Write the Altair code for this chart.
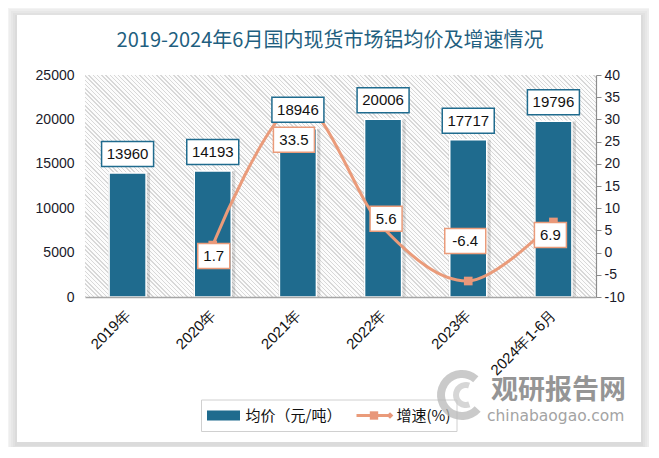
import altair as alt
import pandas as pd

# ---------------- data ----------------
YEARS = ["2019年", "2020年", "2021年", "2022年", "2023年", "2024年1-6月"]
PRICE = [13960, 14193, 18946, 20006, 17717, 19796]
GROWTH_YEARS = ["2020年", "2021年", "2022年", "2023年", "2024年1-6月"]
GROWTH = [1.7, 33.5, 5.6, -6.4, 6.9]
LEFT_TICKS = [0, 5000, 10000, 15000, 20000, 25000]
RIGHT_TICKS = [-10, -5, 0, 5, 10, 15, 20, 25, 30, 35, 40]
TITLE = "2019-2024年6月国内现货市场铝均价及增速情况"
LEGEND_BAR = "均价（元/吨）"
LEGEND_LINE = "增速(%)"

price_df = pd.DataFrame({"year": YEARS, "price": PRICE,
                         "label": [str(v) for v in PRICE]})
growth_df = pd.DataFrame({"year": GROWTH_YEARS, "growth": GROWTH,
                          "label": [f"{v:.1f}" for v in GROWTH]})
one = pd.DataFrame({"k": [0]})

# ---------------- style ----------------
W, H = 511, 222
BAR_C = "#1f6b8e"
LINE_C = "#ea9b7a"
NUM_FONT = "Liberation Sans"
CJK_FONT = "Noto Sans CJK SC"
# label placement (pixel offsets from the data point)
LINE_LABEL_OFFSETS = {"2020年": (1, 11), "2021年": (-4, 36), "2022年": (3, -9),
                      "2023年": (-3, -40), "2024年1-6月": (-3, 13)}


def box_shape(w, h):
    r = h / w
    return f"M-1,{-r:.4f}L1,{-r:.4f}L1,{r:.4f}L-1,{r:.4f}Z"


X = alt.X("year:N", scale=alt.Scale(domain=YEARS, paddingInner=0.2, paddingOuter=0.1),
          axis=alt.Axis(title=None, labelAngle=-45, labelAlign="right", labelBaseline="middle",
                        labelPadding=15, ticks=False, tickSize=0, domainColor="#a6a6a6",
                        domainWidth=1.5, labelFont=NUM_FONT, labelFontSize=15,
                        labelColor="#111111", grid=False, zindex=1))
Y_LEFT_SCALE = alt.Scale(domain=[0, 25000], nice=False)
Y_RIGHT_SCALE = alt.Scale(domain=[-10, 40], nice=False)
YL = alt.Y("price:Q", scale=Y_LEFT_SCALE,
           axis=alt.Axis(title=None, values=LEFT_TICKS, domain=False, ticks=False, grid=False,
                         labelPadding=11, labelFont=NUM_FONT, labelFontSize=14,
                         labelColor="#1a1a2a", labelExpr="'' + datum.value", zindex=1))
YL_NOAX = alt.Y("price:Q", scale=Y_LEFT_SCALE, axis=None)
YR = alt.Y("growth:Q", scale=Y_RIGHT_SCALE,
           axis=alt.Axis(title=None, orient="right", values=RIGHT_TICKS, domain=True,
                         domainColor="#8c8c8c", domainWidth=1.2, ticks=True, tickSize=5,
                         tickColor="#8c8c8c", grid=False, labelPadding=3, labelFont=NUM_FONT,
                         labelFontSize=14, labelColor="#1a1a2a",
                         labelExpr="'' + datum.value", zindex=1))
YR_NOAX = alt.Y("growth:Q", scale=Y_RIGHT_SCALE, axis=None)

# ---------------- decoration: panel + shadow ----------------
px0, px1, py0, py1 = -68, 556, -60, 367
deco = []
for e in [12, 10, 8, 6, 4, 2]:
    deco.append(alt.Chart(one).mark_rect(fill="black", opacity=0.022).encode(
        x=alt.value(px0 - e), x2=alt.value(px1 + e),
        y=alt.value(py0 - e + 2), y2=alt.value(py1 + e + 2)))
deco.append(alt.Chart(one).mark_rect(fill="white").encode(
    x=alt.value(px0), x2=alt.value(px1), y=alt.value(py0), y2=alt.value(py1)))

# hatched plot background (diagonal stripes via a hard-stop gradient)
perp = (W + H) / 2 ** 0.5
period, stripe = 3.0, 1.0
stops = []
i = 0
while i * period < perp:
    a = i * period / perp
    b = min((i * period + stripe) / perp, 1)
    c = min(((i + 1) * period) / perp, 1)
    stops += [alt.GradientStop(offset=round(a, 5), color="#d8d8d8"),
              alt.GradientStop(offset=round(b, 5), color="#d8d8d8"),
              alt.GradientStop(offset=round(b, 5), color="#fcfcfc"),
              alt.GradientStop(offset=round(c, 5), color="#fcfcfc")]
    i += 1
k = (1 + H / W) / (1 + (H / W) ** 2)
hatch = alt.LinearGradient(gradient="linear", stops=stops, x1=0, y1=1,
                           x2=round(k, 4), y2=round(1 - k * H / W, 4))
deco.append(alt.Chart(one).mark_rect(fill=hatch).encode(
    x=alt.value(0), x2=alt.value(W), y=alt.value(0), y2=alt.value(H)))

deco.append(alt.Chart(one).mark_text(fontSize=20, font=CJK_FONT, color="#1f5f80",
                                     align="center", baseline="middle").encode(
    x=alt.value(245), y=alt.value(-34), text=alt.value(TITLE)))

# ---------------- bars ----------------
bar_shadow = alt.Chart(price_df).mark_bar(width=42, color="black", opacity=0.13, xOffset=1.5).encode(
    x=X, y=YL)
bars = alt.Chart(price_df).mark_bar(width=37, color=BAR_C, stroke="white", strokeWidth=1.5).encode(
    x=X, y=YL)
bars_group = alt.layer(bar_shadow, bars)

# ---------------- line ----------------
line = alt.Chart(growth_df).mark_line(interpolate="cardinal", color=LINE_C, strokeWidth=3).encode(
    x=X, y=YR)
pts = alt.Chart(growth_df).mark_point(shape="square", filled=True, size=75, color="#e8977a",
                                      opacity=1).encode(x=X, y=YR)
line_group = alt.layer(line, pts)

# ---------------- bar value labels (drawn above the line) ----------------
bar_box = alt.Chart(price_df).mark_point(shape=box_shape(52, 25), size=52 * 52, fill="white",
                                         stroke=BAR_C, strokeWidth=1.5, opacity=1,
                                         fillOpacity=1, yOffset=-19).encode(x=X, y=YL_NOAX)
bar_text = alt.Chart(price_df).mark_text(dy=-19, fontSize=15, font=NUM_FONT, color="#111111",
                                         baseline="middle").encode(x=X, y=YL_NOAX, text="label:N")
barlab_group = alt.layer(bar_box, bar_text)

# ---------------- growth labels ----------------
lab_layers = []
for yr, lab in zip(GROWTH_YEARS, [f"{v:.1f}" for v in GROWTH]):
    dx, dy = LINE_LABEL_OFFSETS[yr]
    w = 9 * len(lab) + 5 if "." in lab else 8 * len(lab) + 10
    base = alt.Chart(growth_df).transform_filter(alt.datum.year == yr)
    lab_layers.append(base.mark_point(shape=box_shape(w, 25), size=w * w, fill="white",
                                      stroke=LINE_C, strokeWidth=1.5, opacity=1,
                                      fillOpacity=1, xOffset=dx, yOffset=dy).encode(x=X, y=YR_NOAX))
    lab_layers.append(base.mark_text(dx=dx, dy=dy, fontSize=15, font=NUM_FONT, color="#111111",
                                     baseline="middle").encode(x=X, y=YR_NOAX, text="label:N"))
linelab_group = alt.layer(*lab_layers)

# ---------------- legend + watermark ----------------
front = []
front.append(alt.Chart(one).mark_rect(fill="white", fillOpacity=0, stroke="#d0d0d0", strokeWidth=1).encode(
    x=alt.value(116.5), x2=alt.value(372), y=alt.value(325), y2=alt.value(356.5)))
front.append(alt.Chart(one).mark_rect(fill=BAR_C).encode(
    x=alt.value(122), x2=alt.value(155), y=alt.value(335.5), y2=alt.value(345.5)))
front.append(alt.Chart(one).mark_text(font=CJK_FONT, fontSize=15, color="#111111", align="left",
                                      baseline="middle").encode(
    x=alt.value(160.5), y=alt.value(340.5), text=alt.value(LEGEND_BAR)))
front.append(alt.Chart(one).mark_rule(color=LINE_C, strokeWidth=3).encode(
    x=alt.value(271.5), x2=alt.value(306), y=alt.value(340.5)))
front.append(alt.Chart(one).mark_point(shape="square", filled=True, size=70, color="#e8977a",
                                       opacity=1).encode(x=alt.value(289), y=alt.value(340.5)))
front.append(alt.Chart(one).mark_point(shape="diamond", filled=True, size=45, color="#e8977a",
                                       opacity=1).encode(x=alt.value(305), y=alt.value(340.5)))
front.append(alt.Chart(one).mark_text(font=CJK_FONT, fontSize=15, color="#111111", align="left",
                                      baseline="middle").encode(
    x=alt.value(311.5), y=alt.value(340.5), text=alt.value(LEGEND_LINE)))
# watermark
front.append(alt.Chart(one).mark_arc(radius=25, radius2=17, theta=2.3, theta2=7.0,
                                     color="#b8b8b8", opacity=0.75).encode(
    x=alt.value(377), y=alt.value(320)))
front.append(alt.Chart(one).mark_arc(radius=13, radius2=7, theta=2.8, theta2=6.6,
                                     color="#c8c8c8", opacity=0.75).encode(
    x=alt.value(381), y=alt.value(320)))
front.append(alt.Chart(one).mark_text(font=CJK_FONT, fontSize=27, fontWeight="bold", color="#8a8a8a",
                                      opacity=0.9, align="left", baseline="middle").encode(
    x=alt.value(406), y=alt.value(316), text=alt.value("观研报告网")))
front.append(alt.Chart(one).mark_text(font="DejaVu Sans", fontSize=15.5, color="#9a9a9a",
                                      opacity=0.9, align="left", baseline="middle").encode(
    x=alt.value(402), y=alt.value(341), text=alt.value("chinabaogao.com")))

chart = alt.layer(*deco, bars_group, line_group, barlab_group, linelab_group, *front).resolve_scale(
    y="independent").properties(
    width=W, height=H, autosize=alt.AutoSizeParams(type="none"),
    padding={"left": 77, "top": 67, "right": 53, "bottom": 150},
    background="white",
).configure_view(stroke=None)

chart.save("out.html", embed_options={"renderer": "svg", "actions": False})
